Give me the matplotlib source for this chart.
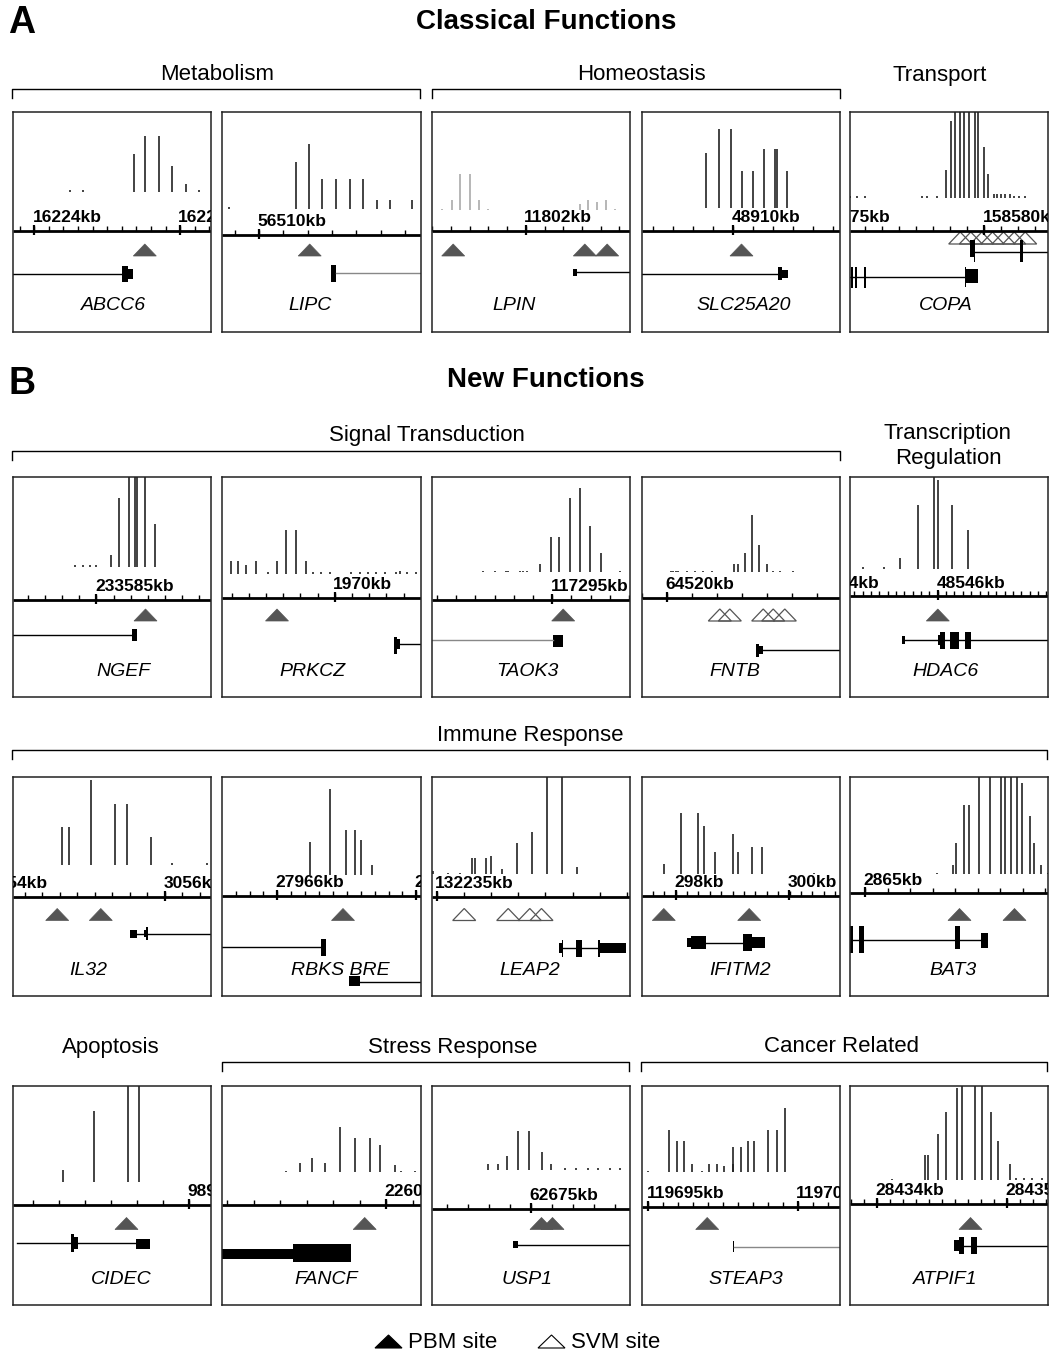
import matplotlib
matplotlib.use("Agg")
import matplotlib.pyplot as plt
import numpy as np
from matplotlib.patches import Polygon, Rectangle

plt.rcParams["font.family"] = ["Liberation Sans", "DejaVu Sans"]

W, H = 1049, 1355

# ---- data: one entry per panel, positions in panel pixels (x from left, y from top)
genes = ["ABCC6", "LIPC", "LPIN", "SLC25A20", "COPA",
         "NGEF", "PRKCZ", "TAOK3", "FNTB", "HDAC6",
         "IL32", "RBKS BRE", "LEAP2", "IFITM2", "BAT3",
         "CIDEC", "FANCF", "USP1", "STEAP3", "ATPIF1"]

signal_x = [
    [58, 70.7, 121.3, 132.3, 146.3, 159.7, 173.3, 186.3],
    [7, 74.3, 87, 100, 113.7, 127.7, 141, 155.3, 167.7, 190],
    [10, 20, 28.7, 38.3, 47.7, 56.7, 148.3, 156.7, 165, 174, 183.3],
    [64.3, 77.3, 89, 100, 111, 122.3, 133.3, 135.7, 145.7],
    [0.7, 7.3, 15.7, 72.3, 77.3, 87.3, 96.7, 101.7, 105.7, 110.7, 114.7, 119, 125.7, 128.3,
     134.7, 138, 144, 147.3, 151.3, 155.7, 160, 164, 169, 175.7],
    [63, 70.7, 77.3, 84, 98.3, 106.7, 116.3, 122.3, 125, 132.3, 142.3],
    [8.7, 16, 24.3, 34.3, 46, 55, 64.3, 73.7, 83.7, 91, 99.3, 107.7, 129.3, 137.7, 146, 154.3,
     162.7, 174.3, 177.7, 185, 193.7],
    [51.7, 63.3, 74.3, 76, 88.3, 91.7, 95.7, 108.3, 119.3, 127.3, 138.3, 148.3, 158.3, 169, 188.3],
    [29.3, 31.7, 34, 36.7, 45, 53.3, 61.7, 70, 92.7, 96.7, 103.3, 110, 117.3, 125, 131.7, 138.3, 151.7],
    [13.3, 34, 50, 68, 84, 88, 102.3, 118.3],
    [49.7, 56.7, 79, 102.3, 114.7, 138.3, 160, 194.7],
    [88.3, 107.7, 123.7, 133.3, 138.7, 150],
    [1, 16.7, 28.3, 40.7, 43.3, 54.3, 59, 70, 85, 100, 115, 130.7, 145],
    [22.3, 39, 56.7, 62.3, 73.3, 91, 96.7, 110, 120, 172.7],
    [87.3, 103, 106.3, 114.7, 119, 129, 140.7, 151.3, 155, 161.3, 167.3, 172.3, 180, 184.7, 191.3, 198],
    [50.7, 81.7, 115.7, 126.7],
    [63.7, 77.7, 90, 102.7, 117.7, 132.7, 147.7, 157.7, 172.7, 178.7, 192.7],
    [56.7, 66.7, 75, 86.7, 97.7, 110, 119.3, 133.3, 144.3, 156, 166.7, 178.3, 188.3],
    [6.7, 27.3, 35.7, 42.7, 50.7, 60.7, 67.3, 75, 82.7, 91, 91.7, 99, 106, 112.7, 126.7, 135, 143.3],
    [42.7, 75.3, 78.7, 88.3, 96.7, 107.7, 112.7, 125.3, 132, 141.7, 148.7, 160, 166, 174.3, 182.7, 192.7],
]
signal_h = [
    [1.7, 1.7, 38.3, 56, 56, 26, 8.3, 1.7],
    [1.7, 46.7, 64.7, 30, 30, 30, 30, 9, 9, 9],
    [1, 10, 35.3, 35.3, 10, 1, 6, 10, 7.7, 10, 1],
    [55, 78.7, 78.7, 37, 37, 58.7, 58.7, 58.7, 37],
    [1.5, 1.5, 1.5, 1.5, 1.5, 1.5, 27.3, 76.7, 100, 100, 100, 100, 100, 100,
     50.7, 23.3, 4, 4, 4, 4, 4, 2, 2, 1.5],
    [1.7, 1.7, 1.7, 1.7, 12.3, 69, 100, 100, 100, 100, 42.7],
    [12.7, 12.7, 8.3, 12.7, 1.7, 12.7, 43.3, 43.3, 12.7, 1.7, 1.7, 1.7, 1.7, 1.7, 1.7, 1.7,
     1.7, 1.7, 2.5, 1.7, 1.7],
    [1, 1, 1, 1, 1, 1, 1, 8.3, 35, 35, 74.3, 84.3, 45.7, 19.3, 1],
    [1.5, 1.5, 1.5, 1.5, 1.5, 1.5, 1.5, 1.5, 8.3, 8.3, 19.3, 56.7, 26.7, 8.3, 1.5, 1.5, 1.5],
    [2, 2, 11.3, 64, 100, 89, 64, 39],
    [37.3, 37.3, 85, 60.7, 60.7, 28, 1.5, 1.5],
    [32.7, 86, 45, 45, 35.3, 10.3],
    [3.3, 1.5, 1.5, 16, 16, 16, 18.7, 5, 31, 42, 100, 100, 7],
    [10, 60.7, 60.7, 48.3, 21.7, 40, 21.7, 27.3, 27.3, 1],
    [1.5, 9.3, 31, 69.3, 69.3, 100, 100, 100, 100, 100, 100, 91, 58.7, 31, 9.3, 1],
    [11.7, 71, 100, 100],
    [1.5, 9.3, 14, 9.3, 45, 34.3, 34.3, 27.3, 7.3, 1.5, 1.5],
    [5.7, 5.7, 14, 39, 39, 18, 5.7, 1.5, 1.5, 1.5, 1.5, 1.5, 1.5],
    [1.5, 42.7, 31.7, 31.7, 8.3, 1.5, 8.3, 8.3, 6.7, 8.3, 25, 25, 31.7, 31.7, 42.7, 42.7, 64],
    [1, 25, 25, 46, 67.7, 91.7, 100, 100, 100, 67.7, 38.7, 16, 1.5, 1.5, 1.5, 1.5],
]
signal_base = [80, 96.7, 97.7, 96, 85.7, 90, 96.7, 95, 95, 92.3,
               88, 98.3, 97.7, 97.3, 97.7, 96, 86.7, 84, 86.7, 94.3]

axis_y = [119, 122.7, 119, 119, 119, 122.7, 120.7, 122.7, 120.7, 119.3,
          120, 119, 120, 119.3, 116.7, 119.3, 119.3, 123.3, 121, 118.3]
tick_step = [14.6, 24.3, 18.7, 20, 17.07, 17.1, 17.2, 19.2, 25, 8.35,
             17.5, 13.9, 27.2, 11.4, 22.5, 26, 26.5, 21, 15, 13]
major_ticks = [[21.7, 167.3], [37], [94.3], [91.7], [-36, 134.7],
               [84], [112.7], [120.7], [25], [-37, 88.3],
               [-22.7, 152.3], [55.3, 194.3], [5], [34, 147.7], [15.7],
               [176.3], [164.3], [99.3], [6.7, 156], [27.7, 157.7]]
tick_labels = [["16224kb", "16225kb"], ["56510kb"], ["11802kb"], ["48910kb"], ["158575kb", "158580kb"],
               ["233585kb"], ["1970kb"], ["117295kb"], ["64520kb"], ["48544kb", "48546kb"],
               ["3054kb", "3056kb"], ["27966kb", "27968kb"], ["132235kb"], ["298kb", "300kb"], ["2865kb"],
               ["9890kb"], ["22604kb"], ["62675kb"], ["119695kb", "119700kb"], ["28434kb", "28435kb"]]

pbm_sites = [[132.3], [87.7], [21.7, 153.3, 175.7], [100], [],
             [133], [55], [131.7], [], [88.3],
             [44.7, 88.3], [121], [], [22.3, 107.7], [110, 165],
             [114], [142.7], [110, 121], [65.7], [121]]
svm_sites = [[], [], [], [], [110.7, 121.3, 132.3, 143, 154, 164.7, 175.7],
             [], [], [], [78.3, 88.3, 121.7, 131.7, 143.3], [],
             [], [], [32.7, 76.7, 98.3, 110], [], [],
             [], [], [], [], []]

# gene models: introns (x0, x1, y), exons (x0, x1, y centre, height)
introns = [
    [(0, 110, 161.7)],
    [(114.3, 198.5, 161)],
    [(145.7, 198.5, 160)],
    [(0, 136.7, 161.7)],
    [(125.7, 198.5, 140), (0, 116, 165)],
    [(0, 119.7, 157.7)],
    [(177.7, 198.5, 167.3)],
    [(0, 121.7, 162.7)],
    [(121.7, 198.5, 172.7)],
    [(55.7, 198.5, 163.3)],
    [(124.7, 131.3, 157.3), (135.7, 198.5, 157.3)],
    [(0, 99.3, 170.7), (137.7, 198.5, 205)],
    [(131.7, 168.3, 171.7)],
    [(64, 101, 166)],
    [(0, 131.7, 163.3)],
    [(4, 123.3, 157.7)],
    [],
    [(86.7, 198.5, 159.3)],
    [(92.7, 198.5, 161)],
    [(114.3, 121, 160), (127, 198.5, 160)],
]
exons = [
    [(110, 115.7, 161.7, 16), (115.7, 120.7, 161.7, 10)],
    [(108.7, 114.3, 161, 17)],
    [(141, 145.7, 160, 7)],
    [(136, 140, 161.7, 13), (140, 146, 161.7, 8)],
    [(120, 124, 136.5, 17), (124, 125.7, 139, 22), (170, 173.3, 139, 22),
     (1.3, 3.3, 165, 21), (5.7, 7.3, 165, 21), (14, 16.7, 165, 21),
     (115.7, 116.7, 165, 20), (116.7, 128.3, 163.8, 14.3)],
    [(119.7, 124.7, 158.2, 11.7)],
    [(172, 174.5, 168, 17), (174.5, 177.7, 167.3, 10)],
    [(121.7, 131.7, 164, 11.7)],
    [(114.3, 117, 173, 13), (117, 121.7, 172.7, 8)],
    [(52.3, 55.7, 163.3, 8.3), (88, 90.7, 163.3, 10), (90.7, 95.7, 163.3, 17),
     (100.7, 109, 163.3, 17), (115.7, 121.3, 163.3, 17)],
    [(117.3, 124.7, 157.5, 8.3), (131.3, 134, 157.3, 6.7), (134, 135.7, 157.3, 13.3)],
    [(98.7, 103.7, 170.7, 16.7), (127, 137.7, 204.7, 10)],
    [(127.7, 130.3, 171.7, 10), (130.3, 131.7, 171.7, 17), (144, 150, 171.7, 17),
     (166.3, 168.3, 171.7, 17), (168.3, 194.3, 171.7, 10)],
    [(45.7, 49.7, 166, 8.3), (49.7, 64, 166, 13.3), (101, 110, 166, 16.7), (110, 123.3, 166, 11)],
    [(0, 3.3, 163.3, 26.7), (9, 14, 163.3, 26.7), (105.7, 110.7, 161.3, 22.7), (131.7, 138.3, 164.2, 15)],
    [(59, 61.5, 157.7, 18.3), (61.5, 65.7, 157.7, 12), (123.3, 138, 158.3, 10)],
    [(0, 71, 168.3, 10), (71, 129.3, 167.2, 17.7)],
    [(81, 86.7, 159.3, 6.7)],
    [(91, 92.7, 161, 11)],
    [(104.3, 109.3, 160, 11.7), (109.3, 114.3, 160, 17.3), (121, 127, 160, 17.3)],
]
name_x = [101, 88, 83, 102, 96, 111, 90, 96, 93, 96,
          76, 118, 98, 99, 104, 109, 104, 96, 104, 96]

# group headers: (text, x centre, y centre), brackets: (x0, x1, y)
headers = [("Metabolism", 217, 75), ("Homeostasis", 641, 75), ("Transport", 940, 75),
           ("Signal Transduction", 427, 436), ("Transcription\nRegulation", 948, 446),
           ("Immune Response", 530, 735),
           ("Apoptosis", 111, 1047), ("Stress Response", 453, 1047), ("Cancer Related", 842, 1047)]
brackets = [(12, 420, 89), (432, 840, 89), (12, 840, 451), (12, 1047, 750),
            (222, 629, 1062), (641, 1047, 1062)]

# ---- layout
col_left = [12.5, 222, 431.5, 641.5, 849.5]
row_top = [112, 477, 776.5, 1085.5]
PW, PH = 198.5, 219.5
site_base = [144] * 20
site_base[4] = 132
gray_line = {"LIPC", "TAOK3", "STEAP3"}
TRI_W, TRI_H = 11.5, 12
PBM_COLOR = "#555555"

fig = plt.figure(figsize=(W / 100, H / 100), dpi=100)
bg = fig.add_axes([0, 0, 1, 1])
bg.set_xlim(0, W)
bg.set_ylim(H, 0)
bg.axis("off")

bg.text(22, 23, "A", fontsize=27, fontweight="bold", ha="center", va="center")
bg.text(546, 22, "Classical Functions", fontsize=20, fontweight="bold", ha="center", va="center")
bg.text(22, 384, "B", fontsize=27, fontweight="bold", ha="center", va="center")
bg.text(546, 380, "New Functions", fontsize=20, fontweight="bold", ha="center", va="center")

for text, x, y in headers:
    bg.text(x, y, text, fontsize=16, ha="center", va="center", linespacing=1.3)
for x0, x1, y in brackets:
    bg.plot([x0, x0, x1, x1], [y + 9, y, y, y + 9], color="black", lw=1)

# legend
bg.add_patch(Polygon([(375, 1348), (402, 1348), (388.5, 1335)], closed=True,
                     facecolor="black", edgecolor="black", lw=0.8))
bg.text(408, 1342, "PBM site", fontsize=16, ha="left", va="center")
bg.add_patch(Polygon([(538, 1348), (565, 1348), (551.5, 1335)], closed=True,
                     facecolor="white", edgecolor="black", lw=0.8))
bg.text(571, 1342, "SVM site", fontsize=16, ha="left", va="center")

for i, gene in enumerate(genes):
    r, c = divmod(i, 5)
    ax = fig.add_axes([col_left[c] / W, 1 - (row_top[r] + PH) / H, PW / W, PH / H])
    ax.set_xlim(0, PW)
    ax.set_ylim(PH, 0)
    ax.set_xticks([])
    ax.set_yticks([])
    for s in ax.spines.values():
        s.set_linewidth(1.1)
        s.set_color("#222222")

    # signal track
    base = signal_base[i]
    h = np.array(signal_h[i])
    bar_color = "#aaaaaa" if gene == "LPIN" else "#222222"
    ax.vlines(signal_x[i], base - h, base, color=bar_color, lw=1.2)

    # coordinate axis
    ay = axis_y[i]
    ax.plot([0, PW], [ay, ay], color="black", lw=2, solid_capstyle="butt")
    step = tick_step[i]
    minor = np.arange(major_ticks[i][0] % step, PW, step)
    ax.vlines(minor, ay - 5, ay, color="black", lw=1)
    ax.vlines(major_ticks[i], ay - 6, ay + 4, color="black", lw=1.6)
    for mx, lab in zip(major_ticks[i], tick_labels[i]):
        ax.text(mx - 1.5, ay - 8.5, lab, fontsize=12.5, fontweight="bold", ha="left",
                va="baseline", clip_on=True)

    # binding sites
    yb = site_base[i]
    for sx in pbm_sites[i]:
        ax.add_patch(Polygon([(sx - TRI_W, yb), (sx + TRI_W, yb), (sx, yb - TRI_H)], closed=True,
                             facecolor=PBM_COLOR, edgecolor=PBM_COLOR, lw=0.5))
    for sx in svm_sites[i]:
        ax.add_patch(Polygon([(sx - TRI_W, yb), (sx + TRI_W, yb), (sx, yb - TRI_H)], closed=True,
                             facecolor="none", edgecolor="#555555", lw=0.9))

    # gene model
    line_color = "#888888" if gene in gray_line else "black"
    for x0, x1, y in introns[i]:
        ax.plot([x0, x1], [y, y], color=line_color, lw=1)
    for x0, x1, yc, eh in exons[i]:
        ax.add_patch(Rectangle((x0, yc - eh / 2), x1 - x0, eh, facecolor="black", edgecolor="none"))

    ax.text(name_x[i], 194, gene, fontsize=14, style="italic", ha="center", va="center")

fig.savefig("out.png", dpi=100)
